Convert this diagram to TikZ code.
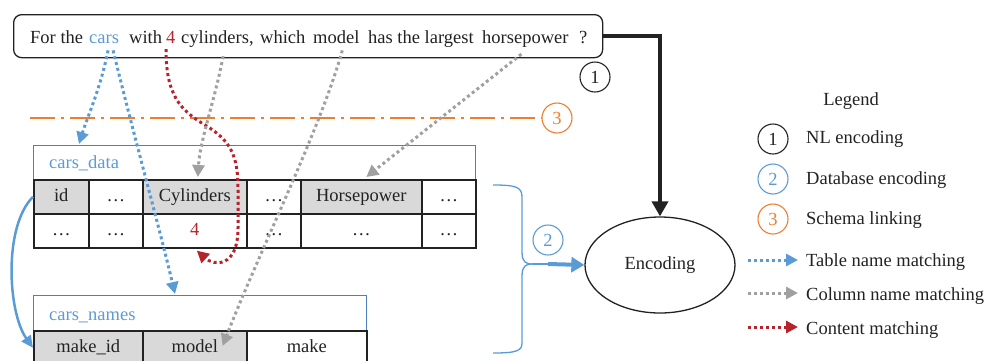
\documentclass[tikz,border=0pt]{standalone}
\usepackage{fontspec}
\setmainfont{Liberation Serif}
\usetikzlibrary{arrows.meta,shapes.geometric,calc}
\definecolor{cblue}{HTML}{5B9BD5}
\definecolor{hblue}{HTML}{4A7FC1}
\definecolor{corange}{HTML}{ED7D31}
\definecolor{cred}{HTML}{B8232B}
\definecolor{cgray}{HTML}{A0A0A0}
\definecolor{cellgray}{HTML}{D9D9D9}
\definecolor{cblack}{HTML}{222222}
\tikzset{
  word/.style={anchor=base west, inner sep=0pt},
  cell/.style={draw=cblack, line width=1.6pt, minimum height=34pt, inner sep=0pt, anchor=north west, text height=13pt, text depth=4pt},
  gcell/.style={cell, fill=cellgray},
  hdr/.style={draw=hblue, line width=1.2pt, minimum height=34pt, inner sep=0pt, anchor=north west},
  num/.style={circle, draw, line width=1.1pt, minimum size=30pt, inner sep=0pt},
  dotarrow/.style={line width=3pt, dash pattern=on 3pt off 3pt, -{Triangle[length=12pt,width=12pt]}},
  tmatch/.style={dotarrow, draw=cblue},
  cmatch/.style={dotarrow, draw=cgray},
  vmatch/.style={dotarrow, draw=cred},
}
\begin{document}
\begin{tikzpicture}[x=1pt,y=-1pt,font=\fontsize{18.5}{21}\selectfont,text=cblack]
\useasboundingbox (0,0) rectangle (986,360);
\clip (0,0) rectangle (986,360);

% question box
\node[draw=cblack, rounded corners=8pt, line width=1.3pt, minimum width=589pt, minimum height=43pt, anchor=north west, inner sep=0pt] (q) at (13,14) {};
\node[word] (w1) at (30,43) {For the};
\node[word, text=cblue] (cars) at (89,43) {cars};
\node[word] (w2) at (129,43) {with};
\node[word, text=cred] (four) at (166,43) {4};
\node[word] (cylw) at (181,43) {cylinders};
\node[word] (comma) at (249,43) {,};
\node[word] (w3) at (260,43) {which};
\node[word] (modelw) at (313,43) {model};
\node[word] (w4) at (368,43) {has the largest};
\node[word] (hpw) at (482,43) {horsepower};
\node[word] (qm) at (579,43) {?};

\node[num, draw=cblack] (n1) at (595,77) {1};

% schema linking line
\node[num, draw=corange, text=corange] (n3) at (557,118) {3};
\coordinate (s3) at (30,118);
\draw[corange, line width=1.3pt, dash pattern=on 25pt off 6pt on 3pt off 6pt] (s3) -- (n3.west);

% cars_data table
\node[hdr, minimum width=442pt] (cd) at (33,145) {};
\node[anchor=base west, text=cblue, inner sep=0pt] (cdl) at (49,168) {cars\_data};
\node[gcell, minimum width=55pt] (id) at (33,179) {id};
\node[cell, minimum width=54pt] (a2) at (88,179) {…};
\node[gcell, minimum width=104pt] (cyl) at (142,179) {Cylinders};
\node[cell, minimum width=54pt] (a4) at (246,179) {…};
\node[gcell, minimum width=121pt] (hp) at (300,179) {Horsepower};
\node[cell, minimum width=54pt] (a6) at (421,179) {…};
\node[cell, minimum width=55pt] (b1) at (33,213) {…};
\node[cell, minimum width=54pt] (b2) at (88,213) {…};
\node[cell, minimum width=104pt, text=cred] (c4) at (142,213) {4};
\node[cell, minimum width=54pt] (b4) at (246,213) {…};
\node[cell, minimum width=121pt] (b5) at (300,213) {…};
\node[cell, minimum width=54pt] (b6) at (421,213) {…};

% cars_names table
\node[hdr, minimum width=333pt, minimum height=35pt] (cn) at (33,295) {};
\node[anchor=base west, text=cblue, inner sep=0pt] (cnl) at (49,320) {cars\_names};
\node[gcell, minimum width=109pt] (mk) at (33,330) {make\_id};
\node[gcell, minimum width=104pt] (mdl) at (142,330) {model};
\node[cell, minimum width=120pt] (mke) at (246,330) {make};

% encoding
\node[ellipse, draw=cblack, line width=1.3pt, minimum width=150pt, minimum height=96pt, inner sep=0pt] (enc) at (660,265) {Encoding};
\draw[cblack, line width=4.5pt, -{Triangle[length=15pt,width=16pt]}] (q.east) -| (enc.north);

% brace
\coordinate (bt) at (493,185);
\coordinate (bb) at (493,353);
\coordinate (tip) at (532,264);
\coordinate (ast) at (548,264);
\draw[cblue, line width=1.3pt] (bt) .. controls (516,185) and (522,187) .. (522,197) -- (522,252) .. controls (522,262) and (526,264) .. (tip)
  .. controls (526,264) and (522,266) .. (522,276) -- (522,343) .. controls (522,351) and (516,353) .. (bb);
\draw[cblue, line width=1.3pt] (tip) -- (ast);
\draw[cblue, line width=4pt, -{Triangle[length=13pt,width=15pt]}] (ast) -- (enc.west);
\node[num, draw=cblue, text=cblue] (n2) at (548,240) {2};

% connectors
\draw[tmatch] ($(cars.south)+(4,7)$) .. controls (100,90) and (88,115) .. ($(cd.north west)+(46,-1)$);
\draw[tmatch] ($(cars.south)+(9,7)$) .. controls (135,140) and (160,230) .. ($(cn.north west)+(142,-1)$);
\draw[vmatch] ($(four.south west)+(0,6)$) .. controls (166,95) and (180,110) .. (205,125) .. controls (230,140) and (238,155) .. (238,188) -- (238,228) .. controls (238,268) and (214,266) .. ($(c4.south)+(2,2)$);
\draw[cmatch] ($(cylw.south)+(8,9)$) .. controls (215,100) and (200,140) .. ($(cyl.north)+(3,-2)$);
\draw[cmatch] ($(modelw.south)+(6,7)$) .. controls (320,130) and (260,250) .. ($(mdl.north east)+(-25,16)$);
\draw[cmatch] ($(hpw.south)+(-4,7)$) -- ($(hp.north)+(5,-2)$);
\draw[cblue, line width=2.5pt, -{Triangle[length=12pt,width=11pt]}] (id.west) .. controls +(-30,30) and +(-25,-35) .. (mk.west);

% legend
\node[anchor=base, inner sep=0pt] (lg) at (851,105) {Legend};
\node[num, draw=cblack] (l1) at (773,139) {1};
\node[num, draw=cblue, text=cblue] (l2) at (773,179) {2};
\node[num, draw=corange, text=corange] (l3) at (773,219) {3};
\node[anchor=west, inner sep=0pt] (t1) at (806,139) {NL encoding};
\node[anchor=west, inner sep=0pt] (t2) at (806,180) {Database encoding};
\node[anchor=west, inner sep=0pt] (t3) at (806,220) {Schema linking};
\node[anchor=west, inner sep=0pt] (t4) at (806,262) {Table name matching};
\node[anchor=west, inner sep=0pt] (t5) at (806,296) {Column name matching};
\node[anchor=west, inner sep=0pt] (t6) at (806,330) {Content matching};
\coordinate (a4s) at (748,260);
\coordinate (a5s) at (748,293);
\coordinate (a6s) at (748,327);
\draw[tmatch] (a4s) -- ($(t4.west)+(-8,-2)$);
\draw[cmatch] (a5s) -- ($(t5.west)+(-8,-3)$);
\draw[vmatch] (a6s) -- ($(t6.west)+(-8,-3)$);
\end{tikzpicture}
\end{document}
